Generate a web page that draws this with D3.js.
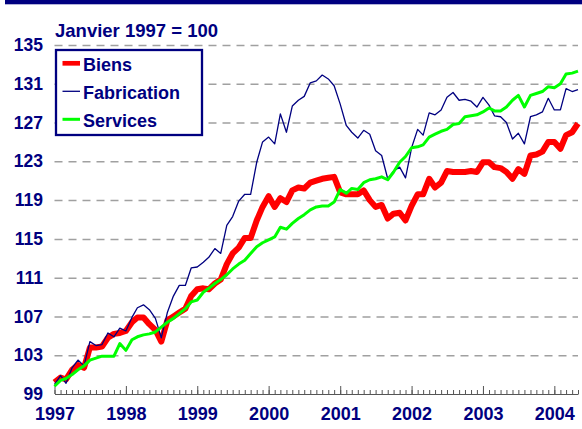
<!DOCTYPE html>
<html>
<head>
<meta charset="utf-8">
<title>Biens, Fabrication, Services</title>
<script src="https://d3js.org/d3.v7.min.js"></script>
<style>
	body { margin: 0; background: #fff; }
	text { font-family: "Liberation Sans", Arial, sans-serif; font-weight: bold; fill: #000080; }
	.grid line { stroke: #a0a0a0; stroke-width: 1.5; stroke-dasharray: 8,6; }
	.grid path { display: none; }
	.yaxis path { display: none; }
</style>
</head>
<body>
<div id="chart"></div>
<script>
	// monthly series, Jan 1997 .. May 2004 (index Jan 1997 = 100)
	var firstMonth = new Date(1997, 0, 1);
	var lastMonth = new Date(2004, 4, 1);

	var yearLabels = ["1997", "1998", "1999", "2000", "2001", "2002", "2003", "2004"];
	var yTicks = [99, 103, 107, 111, 115, 119, 123, 127, 131, 135];
	var seriesNames = ["Biens", "Fabrication", "Services"];

	var biens = [
		100.2, 100.7, 100.5, 101.5, 102.0, 101.7, 103.8, 103.8, 103.9, 104.8, 105.2, 105.3,
		105.5, 106.4, 106.9, 106.9, 106.2, 105.6, 104.4, 106.6, 107.0, 107.4, 107.8, 109.1,
		109.8, 109.9, 109.8, 110.4, 110.8, 112.4, 113.5, 114.1, 115.1, 115.1, 116.9, 118.3,
		119.4, 118.3, 119.2, 118.8, 120.0, 120.3, 120.2, 120.8, 121.0, 121.2, 121.3, 121.4,
		119.8, 119.6, 119.6, 119.6, 120.0, 119.0, 118.3, 118.5, 117.1, 117.6, 117.7, 116.9,
		118.4, 119.6, 119.6, 121.2, 120.3, 120.8, 122.0, 121.9, 121.9, 121.9, 122.0, 121.9,
		122.9, 122.9, 122.4, 122.3, 121.9, 121.2, 122.2, 121.7, 123.6, 123.7, 124.0, 125.0,
		125.0, 124.3, 125.7, 126.0, 126.9
	];
	var fabrication = [
		100.0, 100.9, 100.1, 101.7, 102.5, 101.9, 104.4, 104.0, 104.1, 105.3, 104.9, 105.8,
		105.5, 106.9, 107.9, 108.2, 107.7, 106.8, 104.8, 107.4, 109.1, 110.2, 110.2, 112.0,
		112.1, 112.6, 113.1, 114.0, 113.5, 116.4, 117.3, 118.9, 119.6, 119.6, 122.9, 125.0,
		125.5, 124.8, 127.9, 126.0, 128.7, 129.3, 129.7, 131.1, 131.3, 131.9, 131.5, 130.8,
		128.9, 126.7, 126.0, 125.4, 126.2, 125.8, 124.1, 123.6, 121.2, 122.0, 122.4, 121.3,
		124.4, 126.3, 125.7, 128.0, 127.8, 128.3, 129.6, 130.1, 129.3, 129.4, 129.2, 128.6,
		129.6, 128.8, 127.7, 127.6, 127.0, 125.3, 125.9, 124.8, 127.6, 127.8, 128.1, 129.5,
		128.3, 128.3, 130.5, 130.2, 130.4
	];
	var services = [
		99.8, 100.4, 100.6, 101.0, 101.5, 101.9, 102.5, 102.7, 102.9, 102.9, 102.9, 104.2,
		103.5, 104.6, 104.9, 105.1, 105.2, 105.4, 105.9, 106.4, 106.8, 107.3, 107.8, 108.5,
		108.7, 109.5, 109.9, 110.4, 110.8, 111.3, 111.9, 112.4, 112.8, 113.5, 114.2, 114.6,
		114.9, 115.2, 116.2, 116.0, 116.6, 117.1, 117.5, 118.0, 118.3, 118.4, 118.4, 118.8,
		120.1, 119.7, 120.2, 120.1, 120.8, 121.1, 121.2, 121.4, 121.1, 121.9, 122.9, 123.5,
		124.4, 124.5, 124.7, 125.5, 125.8, 126.1, 126.3, 126.8, 126.9, 127.6, 127.7, 127.8,
		128.1, 128.5, 128.2, 128.2, 128.6, 129.3, 129.8, 128.6, 129.8, 130.0, 130.2, 130.7,
		130.6, 131.0, 132.0, 132.1, 132.3
	];

	var w = 582, h = 429;
	var plotLeft = 54.5, plotRight = 578, plotTop = 45, plotBottom = 394;
	var navy = "#000080";

	var svg = d3.select("#chart").append("svg")
		.attr("width", w)
		.attr("height", h);

	// top rule
	svg.append("rect").attr("x", 5).attr("y", 0).attr("width", w - 5).attr("height", 4.3).attr("fill", navy);

	// scales
	var xScale = d3.scaleTime().domain([firstMonth, lastMonth]).range([plotLeft, plotRight]);
	var yScale = d3.scaleLinear().domain([99, 135]).range([plotBottom, plotTop]);

	// dashed grid
	svg.append("g")
		.attr("class", "grid")
		.attr("transform", "translate(" + plotLeft + ",0)")
		.call(d3.axisLeft(yScale).tickValues(yTicks.slice(1)).tickSize(-(plotRight - plotLeft)).tickFormat(""));

	// y labels
	var yAxis = svg.append("g")
		.attr("class", "yaxis")
		.attr("transform", "translate(" + plotLeft + ",0)")
		.call(d3.axisLeft(yScale).tickValues(yTicks).tickSize(0).tickPadding(11.5));
	yAxis.selectAll("text").style("font-size", "17.5px").attr("fill", navy);

	// x axis: monthly minor ticks, yearly major ticks with labels
	var months = d3.timeMonth.range(firstMonth, d3.timeMonth.offset(lastMonth, 1));
	var years = yearLabels.map(function(y) { return new Date(+y, 0, 1); });

	var minor = svg.append("g")
		.attr("transform", "translate(0," + plotBottom + ")")
		.call(d3.axisBottom(xScale).tickValues(months).tickSizeInner(-4).tickSizeOuter(0).tickFormat(""));
	minor.select("path").attr("stroke", "#555");
	minor.selectAll("line").attr("stroke", "#555");

	var major = svg.append("g")
		.attr("transform", "translate(0," + plotBottom + ")")
		.call(d3.axisBottom(xScale).tickValues(years).tickSizeInner(-8).tickSizeOuter(0).tickPadding(13)
			.tickFormat(function(d, i) { return yearLabels[i]; }));
	major.select("path").remove();
	major.selectAll("line").attr("stroke", "#555");
	major.selectAll("text").style("font-size", "18px").attr("fill", navy);

	// lines
	var line = d3.line()
		.x(function(d, i) { return xScale(d3.timeMonth.offset(firstMonth, i)); })
		.y(function(d) { return yScale(d); });

	var styles = [
		{ data: biens, color: "#ff0000", width: 6 },
		{ data: fabrication, color: navy, width: 1.3 },
		{ data: services, color: "#00ff00", width: 3 }
	];

	styles.forEach(function(s) {
		svg.append("path")
			.datum(s.data)
			.attr("d", line)
			.attr("fill", "none")
			.attr("stroke", s.color)
			.attr("stroke-width", s.width)
			.attr("stroke-linejoin", "round");
	});

	// subtitle
	svg.append("text").attr("x", 55).attr("y", 36.5).style("font-size", "18.5px").text("Janvier 1997 = 100");

	// legend
	var legend = svg.append("g");
	legend.append("rect")
		.attr("x", 56).attr("y", 50).attr("width", 146).attr("height", 85)
		.attr("fill", "#fff").attr("stroke", navy).attr("stroke-width", 2.3);

	var legendRows = legend.selectAll("g.row")
		.data(seriesNames)
		.enter().append("g")
		.attr("class", "row")
		.attr("transform", function(d, i) { return "translate(0," + (63.3 + i * 28) + ")"; });

	legendRows.append("line")
		.attr("x1", 62.5).attr("x2", 80).attr("y1", 0).attr("y2", 0)
		.attr("stroke", function(d, i) { return styles[i].color; })
		.attr("stroke-width", function(d, i) { return [4.7, 1.3, 3][i]; });

	legendRows.append("text")
		.attr("x", 83).attr("y", 7.3)
		.style("font-size", "18px")
		.text(function(d) { return d; });
</script>
</body>
</html>
